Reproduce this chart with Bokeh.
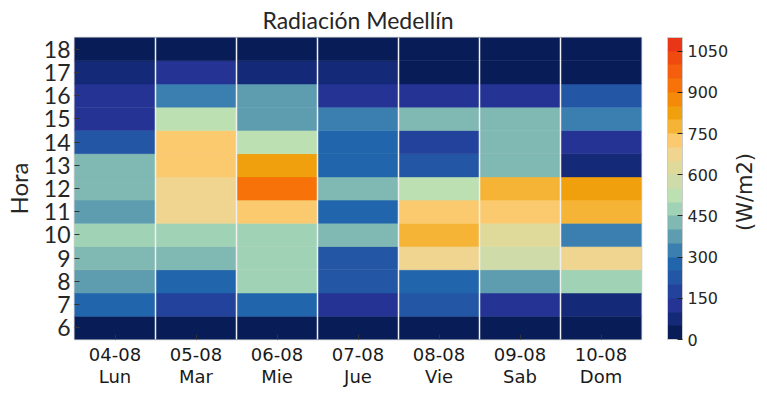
import math
from bokeh.plotting import figure
from bokeh.layouts import row
from bokeh.models import (LinearColorMapper, ColorBar, FixedTicker, ColumnDataSource)
from bokeh.core.properties import value
from bokeh.transform import transform
from bokeh.embed import file_html
from bokeh.resources import INLINE

# ---- data ----
dates = ["04-08", "05-08", "06-08", "07-08", "08-08", "09-08", "10-08"]
days = ["Lun", "Mar", "Mie", "Jue", "Vie", "Sab", "Dom"]
hours = [6, 7, 8, 9, 10, 11, 12, 13, 14, 15, 16, 17, 18]

lun = [10, 270, 370, 420, 470, 380, 430, 440, 230, 120, 130, 80, 15]
mar = [10, 170, 270, 420, 470, 670, 680, 720, 730, 520, 320, 130, 15]
mie = [10, 270, 480, 470, 470, 720, 930, 820, 530, 370, 370, 80, 15]
jue = [10, 130, 220, 230, 420, 280, 430, 270, 280, 320, 130, 80, 15]
vie = [10, 230, 280, 670, 780, 720, 530, 220, 170, 420, 130, 30, 15]
sab = [10, 130, 380, 570, 630, 730, 770, 420, 430, 420, 130, 30, 15]
dom = [10, 80, 470, 670, 330, 780, 830, 80, 130, 330, 230, 30, 15]
series = [lun, mar, mie, jue, vie, sab, dom]

palette = ["#081d58", "#142a78", "#253494", "#23429c", "#2356a4", "#2166ac",
           "#3a7fb0", "#5e9cb0", "#80b8b3", "#a0d2b6", "#bde0b3", "#cfdcaa",
           "#dfd99a", "#efd58f", "#fbca6f", "#f5b436", "#f0a00c", "#f48a08",
           "#f77208", "#f45e0c", "#ef4a10", "#e93616"]
cb_ticks = [0, 150, 300, 450, 600, 750, 900, 1050]
unit_label = "(W/m2)"

xs, ys, vals = [], [], []
for i, s in enumerate(series):
    for h, v in zip(hours, s):
        xs.append(i)
        ys.append(h)
        vals.append(v)
src = ColumnDataSource(dict(x=xs, y=ys, val=vals))

mapper = LinearColorMapper(palette=palette, low=0, high=1100)

p = figure(frame_width=567, frame_height=302, output_backend="svg", toolbar_location=None,
           x_range=(-0.5, 6.5), y_range=(5.5, 18.5),
           min_border_left=66, min_border_top=29, min_border_bottom=10, min_border_right=0)
p.rect(x="x", y="y", width=1, height=1, source=src,
       fill_color=transform("val", mapper), line_color=transform("val", mapper), line_width=0.5)

p.title.text = "Radiación Medellín"
p.title.align = "center"
p.title.text_font = "Lato"
p.title.text_font_size = "23px"
p.title.text_font_style = "normal"
p.title.text_color = "#262626"
p.title.standoff = 7

p.outline_line_color = "#cccccc"
p.outline_line_width = 1.5

p.xaxis.ticker = FixedTicker(ticks=list(range(len(dates))))
p.xaxis.major_label_overrides = {i: f"{d}\n{w}" for i, (d, w) in enumerate(zip(dates, days))}
p.xaxis.major_label_text_font = "DejaVu Sans"
p.xaxis.major_label_text_font_size = "18px"
p.xaxis.major_label_text_line_height = 1.05
p.xaxis.major_label_text_color = "#1a1a1a"

p.yaxis.ticker = FixedTicker(ticks=hours)
p.yaxis.major_label_text_font = "Lato"
p.yaxis.major_label_text_font_size = "23px"
p.yaxis.major_label_text_color = "#262626"
p.yaxis.axis_label = "Hora"
p.yaxis.axis_label_text_font = "Lato"
p.yaxis.axis_label_text_font_size = "24px"
p.yaxis.axis_label_text_font_style = "normal"
p.yaxis.axis_label_text_color = "#262626"
p.yaxis.axis_label_standoff = 8

for ax in (p.xaxis, p.yaxis):
    ax.axis_line_color = None
    ax.major_tick_in = 5
    ax.major_tick_out = 0
    ax.minor_tick_line_color = None
    ax.major_tick_line_color = "#333333"
    ax.major_label_standoff = 4

p.ygrid.grid_line_color = None
p.xgrid.ticker = FixedTicker(ticks=[0.5, 1.5, 2.5, 3.5, 4.5, 5.5])
p.xgrid.grid_line_color = "#f0f0f0"
p.xgrid.grid_line_width = 1.5
p.xgrid.level = "overlay"

cb = ColorBar(color_mapper=mapper, ticker=FixedTicker(ticks=cb_ticks), width=15, height=302,
              padding=0, location=(26, 0), bar_line_color="#cccccc",
              major_label_text_font="DejaVu Sans", major_label_text_font_size="16px",
              major_label_text_color="#262626",
              major_tick_line_color="#222222", major_tick_in=5, major_tick_out=0,
              minor_tick_line_color=None, label_standoff=5,
              background_fill_color=None, border_line_color=None)
p.add_layout(cb, "right")

# side panel holding the colour-bar unit label (reads bottom to top)
p2 = figure(width=32, frame_height=302, output_backend="svg", toolbar_location=None,
            x_range=(0, 32), y_range=p.y_range, x_axis_location=None, y_axis_location=None,
            min_border_left=0, min_border_right=0, min_border_top=29, min_border_bottom=0)
p2.outline_line_color = None
p2.grid.grid_line_color = None
p2.text(x=[13], y=[11.85], text=[unit_label], angle=math.pi / 2,
        text_align="center", text_baseline="middle",
        text_font=value("DejaVu Sans"), text_font_size=value("21px"), text_color="#262626")

layout = row(p, p2)
open("out.html", "w").write(file_html(layout, INLINE))
